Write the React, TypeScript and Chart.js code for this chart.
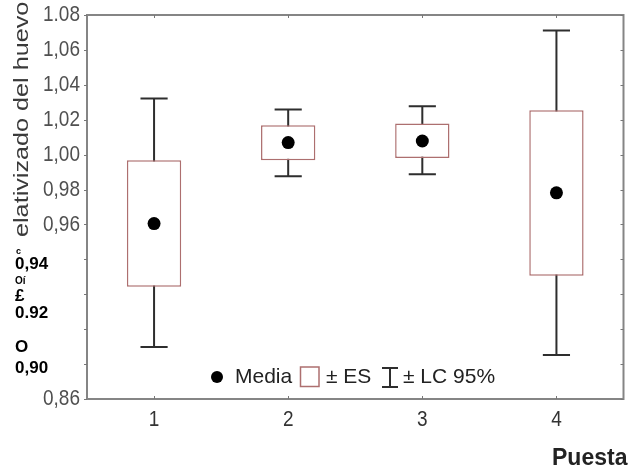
import { useEffect, useRef } from 'react';
import { Chart, registerables } from 'chart.js';

Chart.register(...registerables);

// ---- data ----
const categories = ['1', '2', '3', '4'];
const means = [0.9605, 1.0069, 1.0078, 0.9781];
const seLow = [0.9243, 0.9968, 0.9981, 0.9306];
const seHigh = [0.9968, 1.0168, 1.0178, 1.0254];
const ciLow = [0.8898, 0.9876, 0.9888, 0.8852];
const ciHigh = [1.0321, 1.0259, 1.0277, 1.0711];
const yTickValues = [1.08, 1.06, 1.04, 1.02, 1.0, 0.98, 0.96, 0.94, 0.92, 0.9, 0.88, 0.86];
const yTickLabels = ['1.08', '1,06', '1,04', '1,02', '1,00', '0,98', '0,96', '', '', '', '', '0,86'];
const overlayLabels = ['c', '0,94', 'Oí', '£', '0.92', 'O', '0,90'];
const yTitle = 'elativizado del huevo';
const xTitle = 'Puesta';
const legendLabels = ['Media', '± ES', '± LC 95%'];

const BOX = '#ad6f6f';
const WHISKER = '#2e2e2e';
const AXIS = '#858585';
const FONT = '"Liberation Sans", Arial, sans-serif';

function txt(ctx: CanvasRenderingContext2D, s: string, x: number, y: number, font: string, color: string,
  align: CanvasTextAlign, base: CanvasTextBaseline, sx = 1, sy = 1) {
  ctx.save();
  ctx.translate(x, y);
  ctx.scale(sx, sy);
  ctx.font = font;
  ctx.fillStyle = color;
  ctx.textAlign = align;
  ctx.textBaseline = base;
  ctx.fillText(s, 0, 0);
  ctx.restore();
}

const customPlugin = {
  id: 'custom',
  beforeDatasetsDraw(chart: any) {
    const ctx = chart.ctx as CanvasRenderingContext2D;
    const x = chart.scales.x;
    const y = chart.scales.y;
    const bars = chart.getDatasetMeta(0).data;
    ctx.save();
    ctx.strokeStyle = WHISKER;
    ctx.lineWidth = 2;
    categories.forEach((_, i) => {
      const cx = x.getPixelForValue(i);
      const cap = bars[i].width * 0.5;
      const yl = y.getPixelForValue(ciLow[i]);
      const yh = y.getPixelForValue(ciHigh[i]);
      ctx.beginPath();
      ctx.moveTo(cx, yl);
      ctx.lineTo(cx, yh);
      ctx.moveTo(cx - cap / 2, yl);
      ctx.lineTo(cx + cap / 2, yl);
      ctx.moveTo(cx - cap / 2, yh);
      ctx.lineTo(cx + cap / 2, yh);
      ctx.stroke();
    });
    ctx.restore();
  },
  afterDraw(chart: any) {
    const ctx = chart.ctx as CanvasRenderingContext2D;
    const a = chart.chartArea;
    const x = chart.scales.x;
    const y = chart.scales.y;
    ctx.save();
    // frame
    ctx.strokeStyle = AXIS;
    ctx.lineWidth = 2;
    ctx.strokeRect(a.left, a.top, a.right - a.left, a.bottom - a.top);
    // ticks
    ctx.lineWidth = 1;
    ctx.strokeStyle = '#777';
    ctx.beginPath();
    yTickValues.forEach((v) => {
      const py = Math.round(y.getPixelForValue(v)) + 0.5;
      ctx.moveTo(a.left - 3, py);
      ctx.lineTo(a.left, py);
      ctx.moveTo(a.right, py);
      ctx.lineTo(a.right - 3, py);
    });
    categories.forEach((_, i) => {
      const px = Math.round(x.getPixelForValue(i)) + 0.5;
      ctx.moveTo(px, a.bottom);
      ctx.lineTo(px, a.bottom - 3);
      ctx.moveTo(px, a.top);
      ctx.lineTo(px, a.top + 3);
    });
    ctx.stroke();
    // y tick labels
    yTickValues.forEach((v, i) => {
      if (!yTickLabels[i]) return;
      txt(ctx, yTickLabels[i], a.left - 7, y.getPixelForValue(v), `19px ${FONT}`, '#505050', 'right', 'middle', 1, 1.2);
    });
    // x tick labels
    categories.forEach((c, i) => {
      txt(ctx, c, x.getPixelForValue(i), a.bottom + 21, `19px ${FONT}`, '#333', 'center', 'middle', 1, 1.2);
    });
    // x title
    txt(ctx, xTitle, 552, 465, `bold 23px ${FONT}`, '#222', 'left', 'alphabetic');
    // y title (rotated, partially visible)
    ctx.save();
    ctx.translate(28, 237);
    ctx.rotate(-Math.PI / 2);
    ctx.scale(1.2, 1);
    ctx.font = `21px ${FONT}`;
    ctx.fillStyle = '#3a3a3a';
    ctx.textAlign = 'left';
    ctx.textBaseline = 'alphabetic';
    ctx.fillText(yTitle, 0, 0);
    ctx.restore();
    // overlay bold labels
    const B = `bold 17px ${FONT}`;
    txt(ctx, overlayLabels[0], 16, 254, `bold 9px ${FONT}`, '#000', 'left', 'alphabetic');
    txt(ctx, overlayLabels[1], 15, 269, B, '#000', 'left', 'alphabetic');
    txt(ctx, overlayLabels[2], 15, 284, `bold 10px ${FONT}`, '#000', 'left', 'alphabetic');
    txt(ctx, overlayLabels[3], 15, 301, B, '#000', 'left', 'alphabetic');
    txt(ctx, overlayLabels[4], 15, 318, B, '#000', 'left', 'alphabetic');
    txt(ctx, overlayLabels[5], 15, 352, B, '#000', 'left', 'alphabetic');
    txt(ctx, overlayLabels[6], 15, 373, B, '#000', 'left', 'alphabetic');
    // legend
    const ly = 377;
    ctx.fillStyle = '#000';
    ctx.beginPath();
    ctx.arc(217, ly, 6, 0, Math.PI * 2);
    ctx.fill();
    txt(ctx, legendLabels[0], 235, ly, `21px ${FONT}`, '#222', 'left', 'middle');
    ctx.strokeStyle = BOX;
    ctx.lineWidth = 1.5;
    ctx.strokeRect(300.5, 367, 18.5, 19.5);
    txt(ctx, legendLabels[1], 326, ly, `21px ${FONT}`, '#222', 'left', 'middle');
    ctx.strokeStyle = WHISKER;
    ctx.lineWidth = 2;
    ctx.beginPath();
    ctx.moveTo(390, 368);
    ctx.lineTo(390, 387);
    ctx.moveTo(382, 368);
    ctx.lineTo(398, 368);
    ctx.moveTo(382, 387);
    ctx.lineTo(398, 387);
    ctx.stroke();
    txt(ctx, legendLabels[2], 403, ly, `21px ${FONT}`, '#222', 'left', 'middle');
    ctx.restore();
  },
};

export default function App() {
  const ref = useRef<HTMLCanvasElement>(null);
  useEffect(() => {
    document.body.style.margin = '0';
    const chart = new Chart(ref.current as HTMLCanvasElement, {
      type: 'bar',
      data: {
        labels: categories,
        datasets: [
          {
            type: 'bar',
            data: seLow.map((l, i) => [l, seHigh[i]]) as any,
            backgroundColor: '#ffffff',
            borderColor: BOX,
            borderWidth: 1.5,
            borderSkipped: false,
            barPercentage: 0.405,
            categoryPercentage: 1,
            order: 2,
          } as any,
          {
            type: 'line',
            data: means,
            showLine: false,
            pointRadius: 6.5,
            pointBackgroundColor: '#000',
            pointBorderWidth: 0,
            order: 1,
          } as any,
        ],
      },
      options: {
        responsive: false,
        animation: false,
        layout: { padding: { left: 87, top: 15, right: 1, bottom: 71 } },
        plugins: { legend: { display: false }, tooltip: { enabled: false } },
        scales: {
          x: { display: false, offset: true },
          y: { display: false, min: 0.86, max: 1.08 },
        },
      },
      plugins: [customPlugin],
    });
    return () => chart.destroy();
  }, []);
  return <canvas ref={ref} width={630} height={470} style={{ display: 'block' }} />;
}
